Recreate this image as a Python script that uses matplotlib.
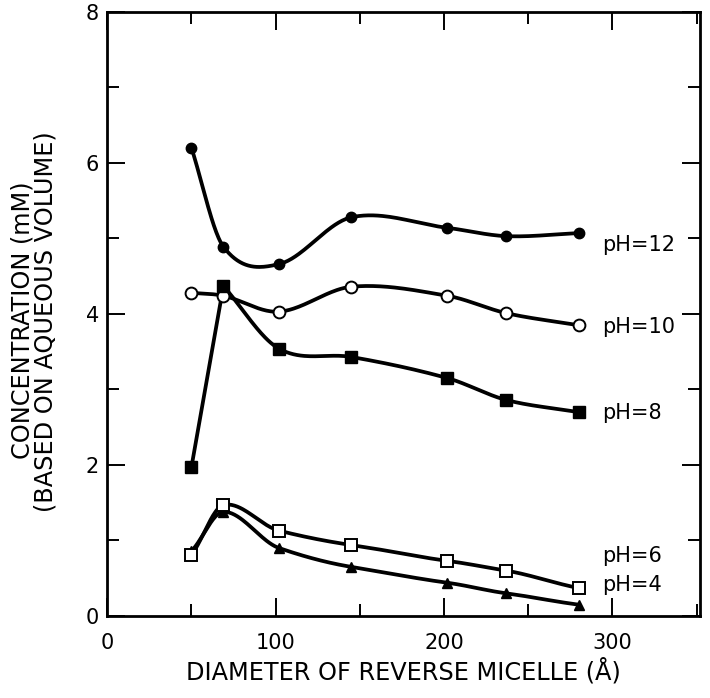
import numpy as np
import matplotlib
matplotlib.use("Agg")
import matplotlib.pyplot as plt
from matplotlib.ticker import MultipleLocator

plt.rcParams['font.family'] = ['DejaVu Sans']

# Reverse micelle diameter (Angstrom)
diameter = [50, 69, 102, 145, 202, 237, 280]

# Concentration (mM, based on aqueous volume) at each pH
conc_ph12 = [6.20, 4.89, 4.66, 5.28, 5.14, 5.03, 5.07]
conc_ph10 = [4.28, 4.24, 4.03, 4.36, 4.24, 4.01, 3.85]
conc_ph8 = [1.97, 4.37, 3.54, 3.43, 3.15, 2.86, 2.70]
conc_ph6 = [0.81, 1.47, 1.13, 0.94, 0.73, 0.60, 0.37]
conc_ph4 = [0.86, 1.38, 0.90, 0.65, 0.44, 0.30, 0.15]

series_labels = ["pH=12", "pH=10", "pH=8", "pH=6", "pH=4"]
label_y = [4.91, 3.83, 2.69, 0.79, 0.41]

x_ticks = [0, 100, 200, 300]
y_ticks = [0, 2, 4, 6, 8]


def hermite_curve(x, y, tension=1.0, n=40):
    """Smooth curve through the points using cubic Hermite segments
    with (scaled) Catmull-Rom style tangents."""
    x = np.asarray(x, float)
    y = np.asarray(y, float)
    if len(x) == 2:
        t = np.linspace(0, 1, n)
        return x[0] + t * (x[1] - x[0]), y[0] + t * (y[1] - y[0])
    m = np.empty_like(y)
    m[0] = (y[1] - y[0]) / (x[1] - x[0])
    m[-1] = (y[-1] - y[-2]) / (x[-1] - x[-2])
    m[1:-1] = (y[2:] - y[:-2]) / (x[2:] - x[:-2])
    m *= tension
    xs, ys = [], []
    for i in range(len(x) - 1):
        h = x[i + 1] - x[i]
        t = np.linspace(0, 1, n, endpoint=(i == len(x) - 2))
        h00 = 2 * t**3 - 3 * t**2 + 1
        h10 = t**3 - 2 * t**2 + t
        h01 = -2 * t**3 + 3 * t**2
        h11 = t**3 - t**2
        xs.append(x[i] + t * h)
        ys.append(h00 * y[i] + h10 * h * m[i] + h01 * y[i + 1] + h11 * h * m[i + 1])
    return np.concatenate(xs), np.concatenate(ys)


def curve_with_corners(x, y, corners=(), tension=1.0):
    """Smooth curve that is allowed to break into a sharp corner at the
    given point indices."""
    cuts = [0] + list(corners) + [len(x) - 1]
    xs, ys = [], []
    for a, b in zip(cuts[:-1], cuts[1:]):
        cx, cy = hermite_curve(x[a:b + 1], y[a:b + 1], tension=tension)
        xs.append(cx)
        ys.append(cy)
    return np.concatenate(xs), np.concatenate(ys)


fig = plt.figure(figsize=(7.10, 6.98), dpi=100)
ax = fig.add_axes([0.151, 0.1175, 0.835, 0.8655])

lw = 2.7
styles = [
    (conc_ph12, (), 1.0, dict(marker='o', ms=7.5, mfc='black', mec='black')),
    (conc_ph10, (), 1.0, dict(marker='o', ms=8.5, mfc='white', mec='black', mew=1.4)),
    (conc_ph8, (1,), 1.0, dict(marker='s', ms=8.5, mfc='black', mec='black')),
    (conc_ph4, (), 0.8, dict(marker='^', ms=6.5, mfc='black', mec='black')),
    (conc_ph6, (), 0.8, dict(marker='s', ms=8.5, mfc='white', mec='black', mew=1.4)),
]

for vals, corners, tens, st in styles:
    cx, cy = curve_with_corners(diameter, vals, corners, tension=tens)
    ax.plot(cx, cy, color='black', lw=lw, solid_capstyle='round',
            solid_joinstyle='round', zorder=2)
    ax.plot(diameter, vals, linestyle='none', zorder=3, **st)

for lab, ly in zip(series_labels, label_y):
    ax.text(294, ly, lab, fontsize=15, ha='left', va='center')

ax.set_xlim(0, 352)
ax.set_ylim(0, 8)
ax.set_xticks(x_ticks)
ax.set_yticks(y_ticks)
ax.xaxis.set_minor_locator(MultipleLocator(50))
ax.yaxis.set_minor_locator(MultipleLocator(1))

for side in ax.spines.values():
    side.set_linewidth(2.0)

ax.tick_params(which='both', direction='in', top=True, right=True, width=1.4,
               labelsize=15)
ax.tick_params(which='major', length=13)
ax.tick_params(which='minor', length=8.5)
ax.tick_params(axis='x', which='major', pad=12)
ax.tick_params(axis='y', which='major', pad=6)

ax.set_xlabel("DIAMETER OF REVERSE MICELLE (Å)", fontsize=17.3, labelpad=4)

# Two-line y-axis title
fig.text(23 / 710, 1 - 320 / 698, "CONCENTRATION (mM)", rotation=90,
         fontsize=17.3, ha='center', va='center')
fig.text(46 / 710, 1 - 322 / 698, "(BASED ON AQUEOUS VOLUME)", rotation=90,
         fontsize=17.3, ha='center', va='center')

fig.savefig("out.png", dpi=100, facecolor='white')
